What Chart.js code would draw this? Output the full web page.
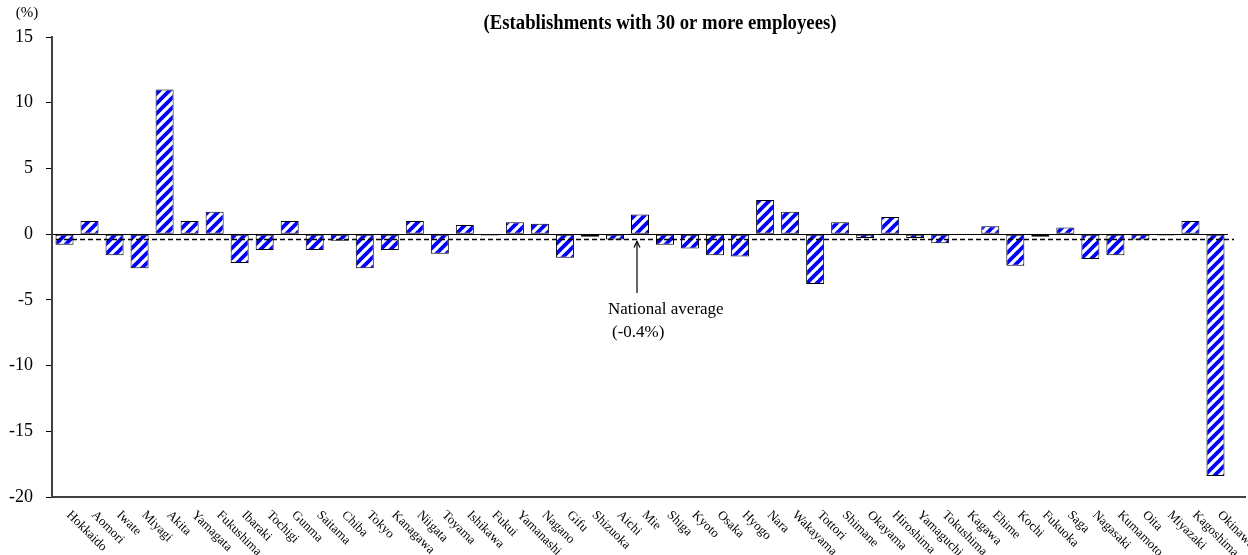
<!DOCTYPE html>
<html><head><meta charset="utf-8">
<script src="https://cdn.jsdelivr.net/npm/chart.js@4"></script>
<style>html,body{margin:0;padding:0;background:#fff;} #wrap{width:1248px;height:555px;position:relative;}</style>
</head><body><div id="wrap"><canvas id="c" width="1248" height="555"></canvas></div>
<script>
const prefectures = ['Hokkaido','Aomori','Iwate','Miyagi','Akita','Yamagata','Fukushima','Ibaraki','Tochigi','Gunma','Saitama','Chiba','Tokyo','Kanagawa','Niigata','Toyama','Ishikawa','Fukui','Yamanashi','Nagano','Gifu','Shizuoka','Aichi','Mie','Shiga','Kyoto','Osaka','Hyogo','Nara','Wakayama','Tottori','Shimane','Okayama','Hiroshima','Yamaguchi','Tokushima','Kagawa','Ehime','Kochi','Fukuoka','Saga','Nagasaki','Kumamoto','Oita','Miyazaki','Kagoshima','Okinawa'];
const changeRates = [-0.8,1.0,-1.6,-2.6,11.0,1.0,1.7,-2.2,-1.2,1.0,-1.2,-0.5,-2.6,-1.2,1.0,-1.5,0.7,-0.1,0.9,0.8,-1.8,-0.2,-0.4,1.5,-0.8,-1.1,-1.6,-1.7,2.6,1.7,-3.8,0.9,-0.3,1.3,-0.3,-0.7,0.0,0.6,-2.4,-0.2,0.5,-1.9,-1.6,-0.4,-0.1,1.0,-18.4];
const yTicks = [15,10,5,0,-5,-10,-15,-20];
const nationalAverage = -0.4;
const titleText = '(Establishments with 30 or more employees)';
const unitLabel = '(%)';
const annotationLines = ['National average','(-0.4%)'];
const SERIF = '"Liberation Serif", "Times New Roman", serif';

function makeStripe(){
  const s=10; const c=document.createElement('canvas'); c.width=s; c.height=s;
  const g=c.getContext('2d'); g.fillStyle='#fff'; g.fillRect(0,0,s,s);
  g.strokeStyle='#0000ff'; g.lineWidth=3.8;
  g.beginPath();
  for (const x0 of [-s,0,s]) { g.moveTo(x0-1,s+1); g.lineTo(x0+s+1,-1); }
  g.stroke();
  return document.getElementById('c').getContext('2d').createPattern(c,'repeat');
}

const overlay = {
  id:'overlay',
  afterDraw(chart){
    const ctx=chart.ctx, ca=chart.chartArea, xs=chart.scales.x, ys=chart.scales.y;
    ctx.save();
    ctx.strokeStyle='#404040'; ctx.lineWidth=2;
    ctx.beginPath(); ctx.moveTo(ca.right-1, ca.bottom); ctx.lineTo(1246, ca.bottom); ctx.stroke();
    const ay = ys.getPixelForValue(nationalAverage);
    ctx.strokeStyle='#000'; ctx.lineWidth=1.5; ctx.setLineDash([5,3]);
    ctx.beginPath(); ctx.moveTo(ca.left+4, ay); ctx.lineTo(1234, ay); ctx.stroke();
    ctx.setLineDash([]);
    const axp = xs.getPixelForTick(23) - 3;
    ctx.lineWidth=1.2;
    ctx.beginPath(); ctx.moveTo(axp, 293); ctx.lineTo(axp, ay+2); ctx.stroke();
    ctx.beginPath(); ctx.moveTo(axp-3, ay+8); ctx.lineTo(axp, ay+2); ctx.lineTo(axp+3, ay+8); ctx.stroke();
    ctx.fillStyle='#000'; ctx.textAlign='left'; ctx.textBaseline='alphabetic';
    ctx.font='17px '+SERIF;
    ctx.fillText(annotationLines[0], 608, 314);
    ctx.fillText(annotationLines[1], 612, 337);
    ctx.font='bold 20px '+SERIF;
    const w = ctx.measureText(titleText).width;
    ctx.save(); ctx.translate(660, 29); ctx.scale(353/w, 1);
    ctx.textAlign='center'; ctx.fillText(titleText, 0, 0); ctx.restore();
    ctx.font='15px '+SERIF; ctx.textAlign='center';
    ctx.fillText(unitLabel, 27, 17);
    ctx.font='13px '+SERIF; ctx.textAlign='left'; ctx.textBaseline='middle';
    prefectures.forEach((p,i)=>{
      const px = xs.getPixelForTick(i);
      ctx.save(); ctx.translate(px+4, 513); ctx.rotate(Math.PI/4);
      ctx.fillText(p, 0, 0); ctx.restore();
    });
    ctx.restore();
  }
};

const canvas = document.getElementById('c');
new Chart(canvas, {
  type:'bar',
  data:{ labels: prefectures, datasets:[{ data: changeRates, backgroundColor: makeStripe(), borderColor:'#000', borderWidth:1, borderSkipped:false, barPercentage:0.72, categoryPercentage:1 }]},
  options:{
    responsive:false, animation:false, devicePixelRatio:1,
    layout:{ padding:{ top:37, right:20, left:0, bottom:0 } },
    plugins:{ legend:{display:false}, title:{display:false}, tooltip:{enabled:false} },
    scales:{
      x:{ grid:{display:false}, border:{display:true, color:'#404040', width:2}, ticks:{display:false}, afterFit:s=>{ s.height=58; } },
      y:{ min:-20, max:15,
          afterBuildTicks:s=>{ s.ticks = yTicks.map(v=>({value:v})); },
          ticks:{ color:'#000', font:{family:SERIF, size:18}, padding:13, callback:v=>String(v) },
          grid:{ color:c=>(c.tick && c.tick.value===0)?'#000':'rgba(0,0,0,0)', tickColor:'#000', tickLength:6, lineWidth:1 },
          border:{ display:true, color:'#404040', width:2 },
          afterFit:s=>{ s.width=52; } }
    }
  },
  plugins:[overlay]
});
</script></body></html>
